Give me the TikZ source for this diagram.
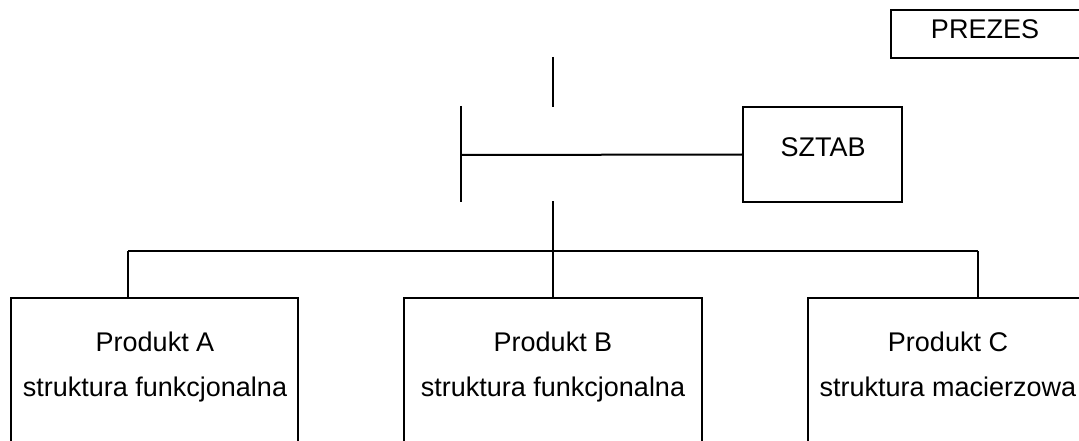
\documentclass[tikz,border=0pt]{standalone}
\usepackage{fontspec}
\setmainfont{Liberation Sans}
\begin{document}
\begin{tikzpicture}[x=1pt,y=-1pt,
  line width=2pt,
  box/.style={draw=black, line width=2pt, rectangle, inner sep=0pt},
  lbl/.style={font=\fontsize{27}{32}\selectfont, inner sep=0pt, anchor=base}]
  \useasboundingbox (0,0) rectangle (1079,441);
  \clip (0,0) rectangle (1079,441);

  % boxes (some run past the page edge)
  \node[box, minimum width=200pt, minimum height=48pt] (prezes) at (991,34) {};
  \node[box, minimum width=159pt, minimum height=95pt] (sztab) at (822.5,154.5) {};
  \node[box, minimum width=287pt, minimum height=180pt] (pa) at (154.5,388) {};
  \node[box, minimum width=298pt, minimum height=180pt] (pb) at (553,388) {};
  \node[box, minimum width=290pt, minimum height=180pt] (pc) at (953,388) {};

  % texts
  \node[lbl] (tprezes) at (985,39) {PREZES};
  \node[lbl] (tsztab) at (823,157) {SZTAB};
  \node[lbl] (ta1) at (155,351) {Produkt A};
  \node[lbl] (ta2) at (155,396) {struktura funkcjonalna};
  \node[lbl] (tb1) at (553,351) {Produkt B};
  \node[lbl] (tb2) at (553,396) {struktura funkcjonalna};
  \node[lbl] (tc1) at (948,351) {Produkt C};
  \node[lbl] (tc2) at (948,396) {struktura macierzowa};

  % connector points
  \coordinate (up1) at (553,57);
  \coordinate (up2) at (553,107);
  \coordinate (bar1) at (461,106);
  \coordinate (bar2) at (461,202);
  \coordinate (barmid) at (461,155);
  \coordinate (down1) at (553,201);
  \coordinate (busmid) at (553,251);
  \coordinate (busl) at (128,251);
  \coordinate (busr) at (978,251);

  \draw (up1) -- (up2);
  \draw (bar1) -- (bar2);
  \draw (barmid) -- (sztab.west);
  \draw (down1) -- (busmid);
  \draw (busl) -- (busr);
  \draw (busl) -- (busl |- pa.north);
  \draw (busmid) -- (pb.north);
  \draw (busr) -- (busr |- pc.north);
\end{tikzpicture}
\end{document}
